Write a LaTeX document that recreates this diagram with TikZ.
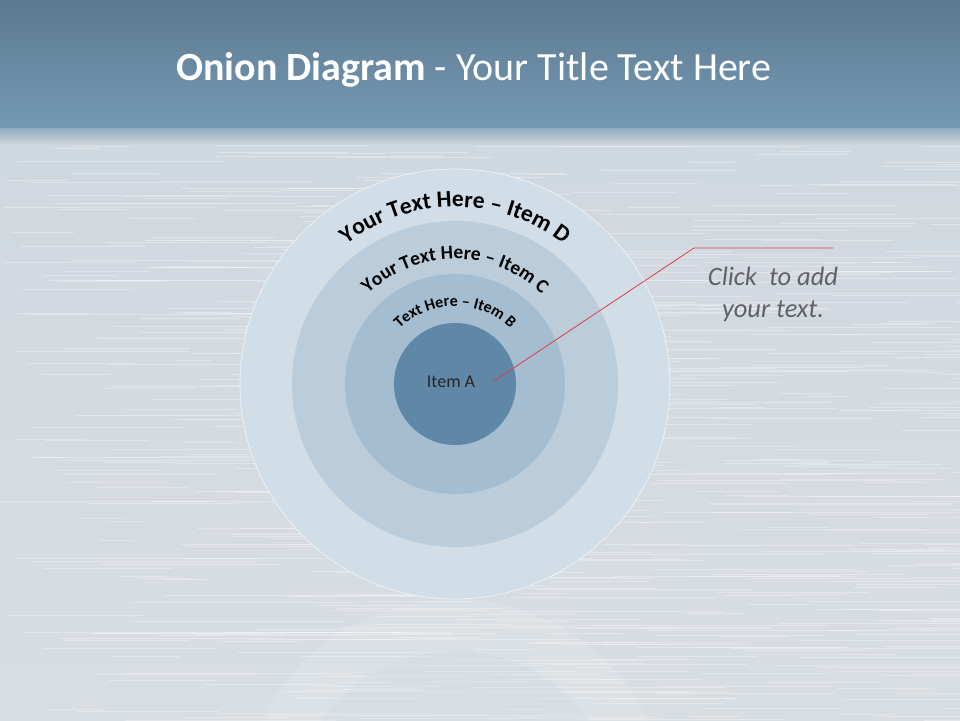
\documentclass[tikz,border=0pt]{standalone}
\usepackage{fontspec}
\setmainfont{Carlito}
\usepackage{tikz}
\usetikzlibrary{decorations.text}

\definecolor{bandtop}{RGB}{92,122,145}
\definecolor{bandbot}{RGB}{117,153,178}
\definecolor{bgtop}{RGB}{208,216,223}
\definecolor{bgmid}{RGB}{222,226,230}
\definecolor{bgbot}{RGB}{216,221,226}
\definecolor{ringD}{RGB}{209,222,231}
\definecolor{ringC}{RGB}{187,205,219}
\definecolor{ringB}{RGB}{165,189,208}
\definecolor{ringA}{RGB}{95,136,167}
\definecolor{leader}{RGB}{222,60,72}
\definecolor{notegrey}{RGB}{96,98,102}

\begin{document}
\begin{tikzpicture}[line cap=round,line join=round,x=1pt,y=1pt,
  ring/.style={circle,inner sep=0pt,minimum size=#1},
  brush/.style={white,line width=0.4pt,opacity=0.3}]
\useasboundingbox (0,0) rectangle (960,720);
\clip (0,0) rectangle (960,720);
% background
\shade [top color=bgtop,middle color=bgmid,bottom color=bgbot] (0,0) rectangle (960,575);
\shade [top color=bandbot!70!bgtop,bottom color=bgtop] (0,575) rectangle (960,592);
\shade [top color=bandtop,bottom color=bandbot] (0,592) rectangle (960,720);
\pgfmathsetseed{7}
\foreach \i in {1,...,600} {
  \pgfmathsetmacro\yy{rnd*575}
  \pgfmathsetmacro\xx{rnd*960}
  \pgfmathsetmacro\ll{30+rnd*220}
  \draw [brush] (\xx,\yy) -- ++(\ll,0);
}
% reflection
\fill [white,opacity=0.12] (455,-94) circle (215);
\fill [ringC,opacity=0.15] (455,-94) circle (163);
% rings
\node [ring=430, fill=ringD, draw=white!70!ringD, line width=0.6pt] (D) at (455,336) {};
\node [ring=326, fill=ringC] (C) at (D.center) {};
\node [ring=220, fill=ringB] (B) at (D.center) {};
\node [ring=122, fill=ringA] (A) at (D.center) {};
\node [text=black!85, font=\fontsize{18}{20}\selectfont] (labelA) at ([xshift=-4pt,yshift=2pt]A.center) {Item A};
% texts on the rings
\path [decorate,decoration={text along path,text align=center,
  text={|\fontsize{23.5}{23.5}\selectfont\bfseries|Your Text Here – Item D}}]
  (D.center) ++(170:177) arc [start angle=170,end angle=10,radius=177];
\path [decorate,decoration={text along path,text align=center,
  text={|\fontsize{19.5}{19.5}\selectfont\bfseries|Your Text Here – Item C}}]
  (D.center) ++(170:125) arc [start angle=170,end angle=10,radius=125];
\path [decorate,decoration={text along path,text align=center,
  text={|\fontsize{16}{16}\selectfont\bfseries|Text Here – Item B}}]
  (D.center) ++(170:78) arc [start angle=170,end angle=10,radius=78];
% title
\node [anchor=base west, text=white, inner sep=0pt, font=\fontsize{40}{42}\selectfont] (title) at (176,639)
  {\textbf{Onion Diagram} - Your Title Text Here};
% callout
\coordinate (tip) at (494,339);
\coordinate (knee) at (694,472);
\coordinate (tail) at (833,472);
\draw [leader,line width=0.8pt] (tip) -- (knee) -- (tail);
\node [text=notegrey, align=center, font=\itshape\fontsize{26.5}{32}\selectfont] (note) at (773,426)
  {Click\ \ to add\\your text.};
\end{tikzpicture}
\end{document}
